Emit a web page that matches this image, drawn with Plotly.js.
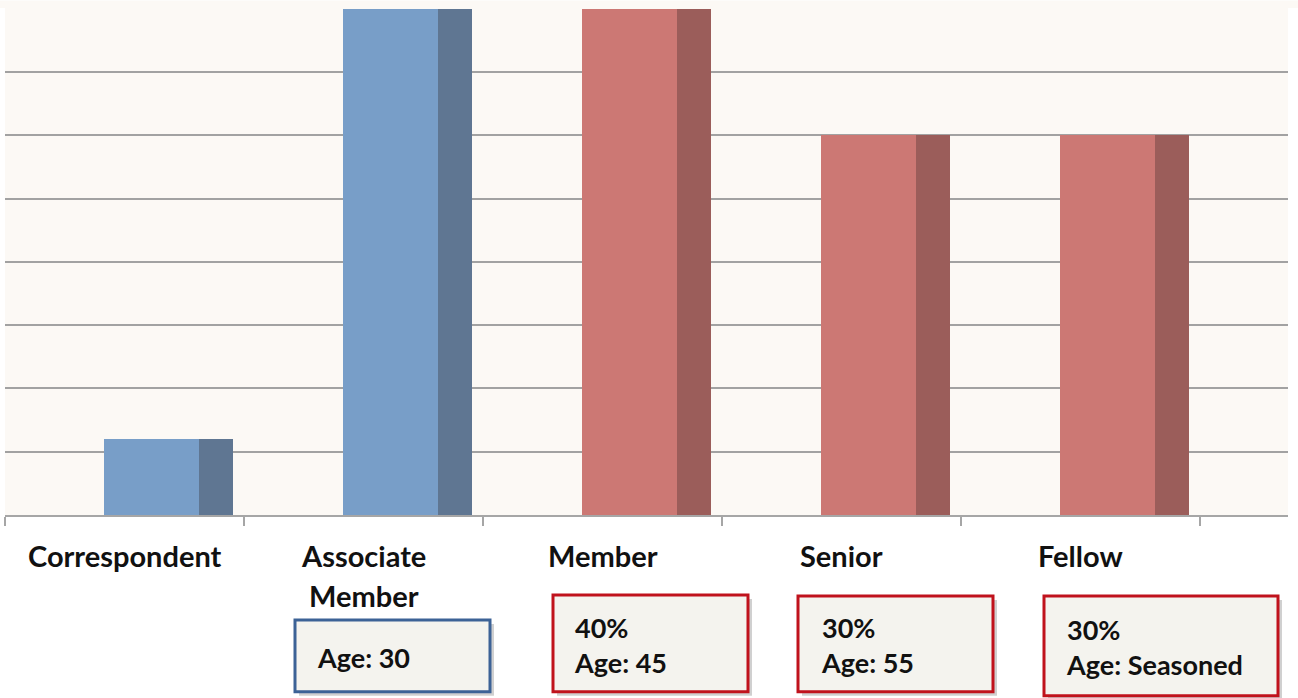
<!DOCTYPE html>
<html>
<head>
<meta charset="utf-8">
<script src="https://cdn.plot.ly/plotly-3.0.1.min.js"></script>
<style>html,body{margin:0;padding:0;background:#ffffff;}#chart{width:1298px;height:698px;}</style>
</head>
<body>
<div id="chart"></div>
<script>
// ---- data ----
const categories = ['Correspondent', 'Associate Member', 'Member', 'Senior', 'Fellow'];
const labelLines = [['Correspondent'], ['Associate', 'Member'], ['Member'], ['Senior'], ['Fellow']];
const values = [6, 40, 40, 30, 30];
const groupKind = ['blue', 'blue', 'red', 'red', 'red'];
const boxTexts = ['', 'Age: 30', '40%<br>Age: 45', '30%<br>Age: 55', '30%<br>Age: Seasoned'];

// ---- styles ----
const frontColor = {blue: '#789ec8', red: '#cc7874'};
const sideColor = {blue: '#5f7692', red: '#9b5d5a'};
const boxBorder = {blue: '#3c6296', red: '#c0121c'};
const FONT = 'Lato, "Open Sans", "Liberation Sans", sans-serif';

// plot area in pixels
const L = 5, R = 1288, T = 7.5, B = 515, W = 1298, H = 698;
const px = x => (x - L) / (R - L);
const py = y => (B - y) / (B - T);

// box geometry (pixels) per category index
const boxGeom = [null,
  {x0: 295, x1: 490, y0: 620, y1: 692, tx: 315, ty: 658},
  {x0: 553, x1: 748, y0: 595, y1: 692, tx: 572, ty: 645},
  {x0: 798, x1: 993, y0: 596, y1: 692, tx: 819, ty: 645},
  {x0: 1044, x1: 1278, y0: 596, y1: 696, tx: 1064, ty: 647}];

const front = {
  type: 'bar', x: categories, y: values,
  width: 0.396, offset: -0.086,
  marker: {color: groupKind.map(k => frontColor[k]), line: {width: 0}},
  hoverinfo: 'x+y', showlegend: false
};
const side = {
  type: 'bar', x: categories, y: values,
  width: 0.144, offset: 0.31,
  marker: {color: groupKind.map(k => sideColor[k]), line: {width: 0}},
  hoverinfo: 'skip', showlegend: false
};

const shapes = [
  // beige band above plot area
  {type: 'rect', xref: 'paper', yref: 'paper', x0: px(0), x1: px(1298), y0: 1, y1: py(0),
   fillcolor: '#fcf9f5', line: {width: 0}, layer: 'below'}
];
const annotations = [];

labelLines.forEach((lines, i) => {
  lines.forEach((ln, j) => {
    annotations.push({
      x: categories[i], xref: 'x', y: py(556 + j * 40), yref: 'paper',
      text: ln, showarrow: false, xanchor: 'center', yanchor: 'middle',
      font: {family: FONT, size: 29, color: '#111111', weight: 700}
    });
  });
});

boxTexts.forEach((t, i) => {
  const g = boxGeom[i];
  if (!g) return;
  const col = boxBorder[groupKind[i]];
  shapes.push({type: 'rect', xref: 'paper', yref: 'paper',
    x0: px(g.x0 + 4), x1: px(g.x1 + 4), y0: py(g.y1 + 4), y1: py(g.y0 + 4),
    fillcolor: 'rgba(120,120,120,0.35)', line: {width: 0}});
  shapes.push({type: 'rect', xref: 'paper', yref: 'paper',
    x0: px(g.x0), x1: px(g.x1), y0: py(g.y1), y1: py(g.y0),
    fillcolor: '#f4f3ee', line: {color: col, width: 3}});
  annotations.push({
    x: px(g.tx), xref: 'paper', y: py(g.ty), yref: 'paper',
    text: t, showarrow: false, xanchor: 'left', yanchor: 'middle', align: 'left',
    font: {family: FONT, size: 27, color: '#111111', weight: 700}
  });
});

const layout = {
  width: W, height: H,
  margin: {l: L, r: W - R, t: T, b: H - B, pad: 0},
  paper_bgcolor: '#ffffff', plot_bgcolor: '#fcf9f5',
  barmode: 'overlay', bargap: 0,
  xaxis: {
    type: 'category', range: [-0.5, 4.868], tickson: 'boundaries',
    ticks: 'outside', ticklen: 9, tickwidth: 2, tickcolor: '#a6a6a6',
    showticklabels: false, showgrid: false, zeroline: false,
    showline: true, linecolor: '#a6a6a6', linewidth: 2, fixedrange: true
  },
  yaxis: {
    range: [0, 40.05], dtick: 5, tick0: 0, showticklabels: false, ticks: '',
    showgrid: true, gridcolor: '#a2a2a2', gridwidth: 2, zeroline: false,
    showline: false, fixedrange: true
  },
  shapes: shapes, annotations: annotations,
  font: {family: FONT}
};

Plotly.newPlot('chart', [front, side], layout, {displayModeBar: false, staticPlot: true});
</script>
</body>
</html>
